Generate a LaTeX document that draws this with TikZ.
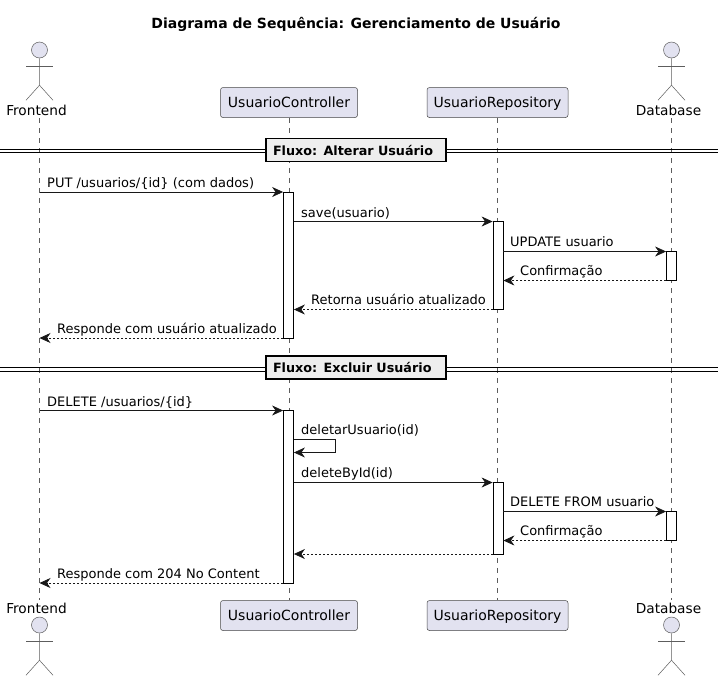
\documentclass[tikz,border=0pt]{standalone}
\usepackage{fontspec}
\setmainfont{DejaVu Sans}
\usetikzlibrary{arrows.meta,calc}
\definecolor{partfill}{HTML}{E2E2F0}
\definecolor{partline}{HTML}{181818}
\definecolor{divfill}{HTML}{EEEEEE}
\tikzset{
  part/.style={draw=partline!80,fill=partfill,rounded corners=2.5pt,line width=0.5pt,minimum height=30pt,inner sep=0pt,text height=10pt,text depth=0pt,font=\fontsize{14}{16}\selectfont},
  actorname/.style={inner sep=0pt,text height=10pt,text depth=0pt,font=\fontsize{13.7}{16}\selectfont},
  actorline/.style={draw=partline!70,line width=0.5pt},
  life/.style={draw=partline!70,line width=0.5pt,dash pattern=on 5pt off 5pt},
  activ/.style={draw=black,fill=white,line width=0.8pt,minimum width=10pt,inner sep=0pt},
  msg/.style={draw=partline,line width=0.8pt,-{Stealth[length=11pt,width=10pt,inset=3.5pt]}},
  ret/.style={msg,dash pattern=on 2pt off 2pt},
  lbl/.style={anchor=base west,inner sep=0pt,font=\fontsize{13}{15}\selectfont,text=black},
  divbox/.style={draw=black,fill=divfill,line width=1.5pt,minimum width=180pt,minimum height=23pt,inner sep=0pt,text width=166pt,align=left,text height=10pt,text depth=0pt,font=\fontsize{12.75}{15}\bfseries\selectfont},
  divline/.style={draw=black,line width=1pt},
}
\newcommand{\stick}[3]{% x, head y, name
  \node[circle,draw=partline!70,fill=partfill,line width=0.5pt,minimum size=16pt,inner sep=0pt] (#3) at (#1,#2) {};
  \draw[actorline] (#3.south) -- ++(0,27) coordinate (#3hip) -- ++(-13.5,15);
  \draw[actorline] (#3hip) -- ++(13.5,15);
  \draw[actorline] ($(#3.south)+(-13.5,8)$) -- ++(27,0);
}
\begin{document}
\begin{tikzpicture}[x=1pt,y=-1pt]
\useasboundingbox (0,0) rectangle (718,681);
\fill[white] (0,0) rectangle (718,681);
\node[font=\fontsize{14}{16}\bfseries\selectfont,anchor=base,inner sep=0pt] (title) at (356,28) {Diagrama de Sequência: Gerenciamento de Usuário};

% participants
\node[actorname] (feT) at (36.5,110) {Frontend};
\node[part,minimum width=137pt] (ucT) at (289,102.5) {UsuarioController};
\node[part,minimum width=141pt] (urT) at (497.5,102.5) {UsuarioRepository};
\node[actorname] (dbT) at (668.5,110) {Database};
\node[actorname] (feB) at (36.5,608) {Frontend};
\node[part,minimum width=137pt] (ucB) at (289,615.5) {UsuarioController};
\node[part,minimum width=141pt] (urB) at (497.5,615.5) {UsuarioRepository};
\node[actorname] (dbB) at (668.5,608) {Database};

% lifelines
\coordinate (lfT) at (39.5,118);
\coordinate (lfB) at (39.5,600);
\coordinate (ldT) at (671.5,118);
\coordinate (ldB) at (671.5,600);
\draw[life] (lfT) -- (lfB);
\draw[life] (ucT.south) -- (ucB.north);
\draw[life] (urT.south) -- (urB.north);
\draw[life] (ldT) -- (ldB);

% actors
\stick{39.5}{50}{aFT}
\stick{671.5}{50}{aDT}
\stick{39.5}{625}{aFB}
\stick{671.5}{625}{aDB}

% dividers
\coordinate (dL1) at (0,151);
\coordinate (dR1) at (718,151);
\coordinate (dL2) at (0,369.5);
\coordinate (dR2) at (718,369.5);
\draw[divline] ($(dL1)+(0,-1.7)$) -- ($(dR1)+(0,-1.7)$);
\draw[divline] ($(dL1)+(0,1.7)$) -- ($(dR1)+(0,1.7)$);
\draw[divline] ($(dL2)+(0,-1.7)$) -- ($(dR2)+(0,-1.7)$);
\draw[divline] ($(dL2)+(0,1.7)$) -- ($(dR2)+(0,1.7)$);
\node[divbox] (d1) at (356,150) {Fluxo: Alterar Usuário};
\node[divbox] (d2) at (356,367.7) {Fluxo: Excluir Usuário};

% activations
\node[activ,minimum height=146pt] (a1) at (288.5,265) {};
\node[activ,minimum height=88pt] (a2) at (498,265.5) {};
\node[activ,minimum height=29pt] (a3) at (671.5,266) {};
\node[activ,minimum height=172.5pt] (a4) at (288.5,496.75) {};
\node[activ,minimum height=71.5pt] (a5) at (498,518.25) {};
\node[activ,minimum height=29pt] (a6) at (671.5,526) {};

% message rows
\coordinate (r1) at (0,192);
\coordinate (r2) at (0,221.5);
\coordinate (r3) at (0,251.5);
\coordinate (r4) at (0,280.5);
\coordinate (r5) at (0,309.5);
\coordinate (r6) at (0,338);
\coordinate (r7) at (0,410.5);
\coordinate (r8a) at (0,439.5);
\coordinate (r8b) at (0,452.5);
\coordinate (r9) at (0,482.5);
\coordinate (r10) at (0,511.5);
\coordinate (r11) at (0,540.5);
\coordinate (r12) at (0,554);
\coordinate (r13) at (0,583);

\draw[msg] (lfT |- r1) -- (a1.west |- r1);
\draw[msg] (a1.east |- r2) -- (a2.west |- r2);
\draw[msg] (a2.east |- r3) -- (a3.west |- r3);
\draw[ret] (a3.west |- r4) -- (a2.east |- r4);
\draw[ret] (a2.west |- r5) -- (a1.east |- r5);
\draw[ret] (a1.west |- r6) -- (lfT |- r6);
\draw[msg] (lfT |- r7) -- (a4.west |- r7);
\draw[msg] (a4.east |- r8a) -- ++(41.5,0) |- (a4.east |- r8b);
\draw[msg] (a4.east |- r9) -- (a5.west |- r9);
\draw[msg] (a5.east |- r10) -- (a6.west |- r10);
\draw[ret] (a6.west |- r11) -- (a5.east |- r11);
\draw[ret] (a5.west |- r12) -- (a4.east |- r12);
\draw[ret] (a4.west |- r13) -- (lfT |- r13);

% labels
\node[lbl] (m1) at (47,187.5) {PUT /usuarios/\{id\} (com dados)};
\node[lbl] (m2) at (301,217) {save(usuario)};
\node[lbl] (m3) at (510,246.5) {UPDATE usuario};
\node[lbl] (m4) at (520,275) {Confirmação};
\node[lbl] (m5) at (311,304.5) {Retorna usuário atualizado};
\node[lbl] (m6) at (57,333) {Responde com usuário atualizado};
\node[lbl] (m7) at (47,406) {DELETE /usuarios/\{id\}};
\node[lbl] (m8) at (301,434.3) {deletarUsuario(id)};
\node[lbl] (m9) at (301,477.3) {deleteById(id)};
\node[lbl] (m10) at (510,506) {DELETE FROM usuario};
\node[lbl] (m11) at (520,535) {Confirmação};
\node[lbl] (m13) at (57,578) {Responde com 204 No Content};
\end{tikzpicture}
\end{document}
